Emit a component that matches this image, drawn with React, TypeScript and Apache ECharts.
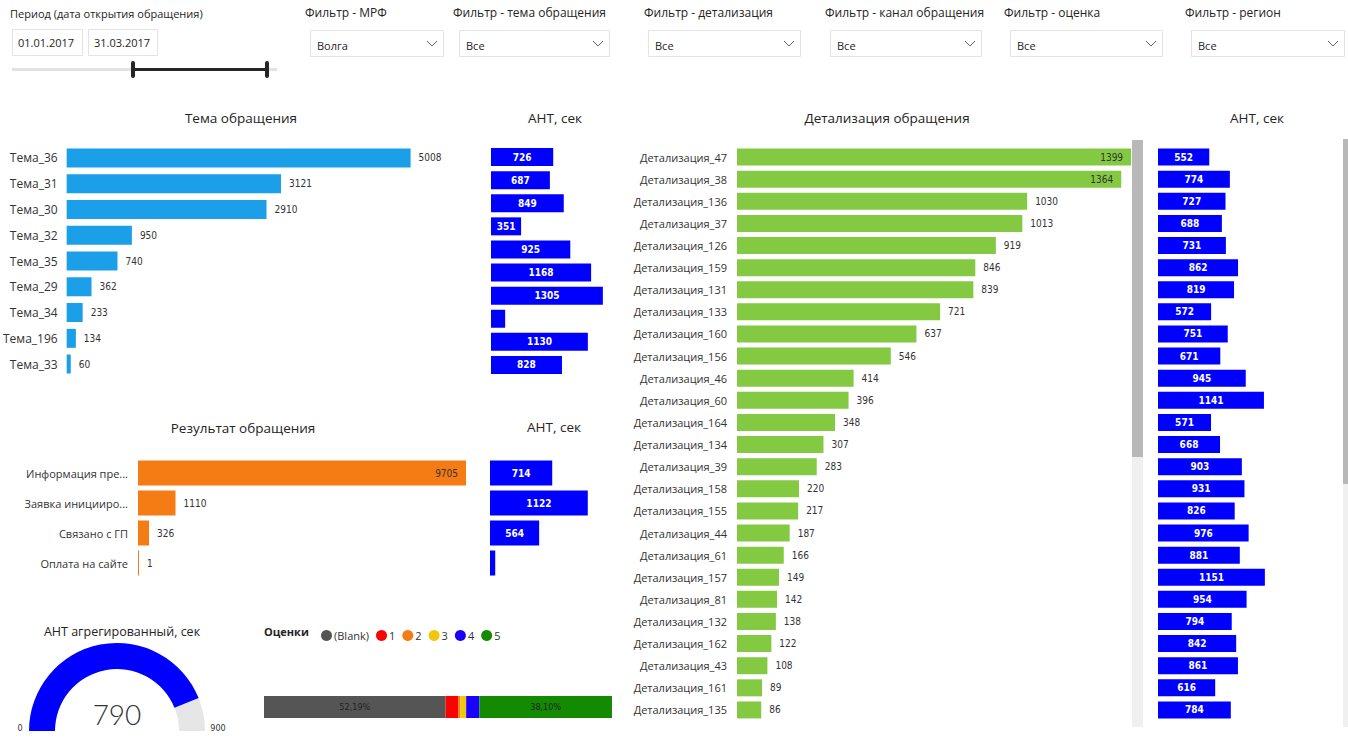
import React, { useEffect, useRef } from "react";
import * as echarts from "echarts";

// ---------- data ----------
const temaCategories = ["Тема_36", "Тема_31", "Тема_30", "Тема_32", "Тема_35", "Тема_29", "Тема_34", "Тема_196", "Тема_33"];
const temaValues = [5008, 3121, 2910, 950, 740, 362, 233, 134, 60];
const temaAhtValues = [726, 687, 849, 351, 925, 1168, 1305, 165, 1130, 828];

const resultCategories = ["Информация пре...", "Заявка иницииро...", "Связано с ГП", "Оплата на сайте"];
const resultValues = [9705, 1110, 326, 1];
const resultAhtValues = [714, 1122, 564, 60];

const detailCategories = [
  "Детализация_47", "Детализация_38", "Детализация_136", "Детализация_37", "Детализация_126",
  "Детализация_159", "Детализация_131", "Детализация_133", "Детализация_160", "Детализация_156",
  "Детализация_46", "Детализация_60", "Детализация_164", "Детализация_134", "Детализация_39",
  "Детализация_158", "Детализация_155", "Детализация_44", "Детализация_61", "Детализация_157",
  "Детализация_81", "Детализация_132", "Детализация_162", "Детализация_43", "Детализация_161",
  "Детализация_135",
];
const detailValues = [1399, 1364, 1030, 1013, 919, 846, 839, 721, 637, 546, 414, 396, 348, 307, 283, 220, 217, 187, 166, 149, 142, 138, 122, 108, 89, 86];
const detailAhtValues = [552, 774, 727, 688, 731, 862, 819, 572, 751, 671, 945, 1141, 571, 668, 903, 931, 826, 976, 881, 1151, 954, 794, 842, 861, 616, 784];

const ratingNames = ["(Blank)", "1", "2", "3", "4", "5"];
const ratingShares = [52.19, 3.6, 0.6, 1.7, 3.8, 38.1];
const ratingColors = ["#555555", "#fd0000", "#f57c14", "#f2c50f", "#1a00ff", "#138a00"];

const gaugeValue = 790;
const gaugeMin = 0;
const gaugeMax = 900;

const periodTitle = "Период (дата открытия обращения)";
const periodDates = ["01.01.2017", "31.03.2017"];
const filterTitles = ["Фильтр - МРФ", "Фильтр - тема обращения", "Фильтр - детализация", "Фильтр - канал обращения", "Фильтр - оценка", "Фильтр - регион"];
const filterValues = ["Волга", "Все", "Все", "Все", "Все", "Все"];

const panelTitles = {
  tema: "Тема обращения",
  result: "Результат обращения",
  detail: "Детализация обращения",
  aht: "АНТ, сек",
  gauge: "АНТ агрегированный, сек",
  ratings: "Оценки",
};

// ---------- layout / style ----------
const UI_FONT = "'Open Sans', 'Noto Sans', sans-serif";
const NUM_FONT = "'DejaVu Sans Condensed', Roboto, sans-serif";
const TITLE_COLOR = "#252423";
const LABEL_COLOR = "#333333";

const filterLayout = [
  { tx: 305, bx: 310, bw: 133 },
  { tx: 453, bx: 459, bw: 150 },
  { tx: 644, bx: 648, bw: 152 },
  { tx: 825, bx: 830, bw: 151 },
  { tx: 1004, bx: 1010, bw: 152 },
  { tx: 1185, bx: 1191, bw: 153 },
];

function txt(x: number, y: number, text: string, size: number, opts: any = {}) {
  return {
    type: "text",
    x,
    y,
    silent: true,
    style: {
      text,
      fill: opts.fill || TITLE_COLOR,
      fontSize: size,
      fontFamily: opts.fontFamily || UI_FONT,
      fontWeight: opts.fontWeight || "normal",
      textAlign: opts.align || "left",
      align: opts.align || "left",
      textVerticalAlign: "middle",
      verticalAlign: "middle",
    },
  };
}

function buildGraphics() {
  const els: any[] = [];
  // period slicer
  els.push(txt(10, 13, periodTitle, 11));
  const dateBoxes = [{ x: 12, w: 70 }, { x: 88, w: 69 }];
  periodDates.forEach((d, i) => {
    els.push({ type: "rect", shape: { x: dateBoxes[i].x + 0.5, y: 29.5, width: dateBoxes[i].w, height: 26 }, style: { fill: "#fff", stroke: "#e3e3e3", lineWidth: 1 } });
    els.push(txt(dateBoxes[i].x + 6, 42, d, 11));
  });
  els.push({ type: "line", shape: { x1: 12, y1: 69.5, x2: 277, y2: 69.5 }, style: { stroke: "#e2e2e2", lineWidth: 3 } });
  els.push({ type: "line", shape: { x1: 133, y1: 69.5, x2: 267, y2: 69.5 }, style: { stroke: "#262626", lineWidth: 3 } });
  els.push({ type: "rect", shape: { x: 131, y: 61, width: 4, height: 17, r: 2 }, style: { fill: "#262626" } });
  els.push({ type: "rect", shape: { x: 265, y: 61, width: 4, height: 17, r: 2 }, style: { fill: "#262626" } });

  // dropdown slicers
  filterTitles.forEach((t, i) => {
    const L = filterLayout[i];
    els.push(txt(L.tx, 12, t, 12));
    els.push({ type: "rect", shape: { x: L.bx + 0.5, y: 30.5, width: L.bw, height: 26 }, style: { fill: "#fff", stroke: "#e3e3e3", lineWidth: 1 } });
    els.push(txt(L.bx + 7, 45, filterValues[i], 11));
    const cx = L.bx + L.bw - 11;
    els.push({ type: "polyline", shape: { points: [[cx - 5, 41], [cx, 46], [cx + 5, 41]] }, style: { stroke: "#666", fill: null, lineWidth: 1 } });
  });

  // panel titles
  els.push(txt(241, 118, panelTitles.tema, 13.5, { align: "center" }));
  els.push(txt(555, 118, panelTitles.aht, 13.5, { align: "center" }));
  els.push(txt(243, 428, panelTitles.result, 13.5, { align: "center" }));
  els.push(txt(554, 427, panelTitles.aht, 13.5, { align: "center" }));
  els.push(txt(887, 118, panelTitles.detail, 13.5, { align: "center" }));
  els.push(txt(1257, 118, panelTitles.aht, 13.5, { align: "center" }));
  els.push(txt(122, 631, panelTitles.gauge, 12.5, { align: "center" }));
  els.push(txt(264, 631, panelTitles.ratings, 11, { fontWeight: "bold" }));

  // gauge end labels
  els.push(txt(20, 728, String(gaugeMin), 9, { fontFamily: NUM_FONT, fill: LABEL_COLOR, align: "center" }));
  els.push(txt(218, 728, String(gaugeMax), 9, { fontFamily: NUM_FONT, fill: LABEL_COLOR, align: "center" }));

  // scrollbars
  els.push({ type: "rect", shape: { x: 1132, y: 457, width: 11, height: 270 }, style: { fill: "#f0f0f0" } });
  els.push({ type: "rect", shape: { x: 1132, y: 140, width: 11, height: 317 }, style: { fill: "#b8b8b8" } });
  els.push({ type: "rect", shape: { x: 1343, y: 484, width: 5, height: 243 }, style: { fill: "#f0f0f0" } });
  els.push({ type: "rect", shape: { x: 1343, y: 139, width: 5, height: 345 }, style: { fill: "#b8b8b8" } });
  return els;
}

function catAxis(gridIndex: number, data: string[], showLabels: boolean, margin = 10, fontSize = 12) {
  return {
    type: "category",
    gridIndex,
    data,
    inverse: true,
    axisLine: { show: false },
    axisTick: { show: false },
    axisLabel: { show: showLabels, color: LABEL_COLOR, fontSize, fontFamily: UI_FONT, margin },
  };
}

function valAxis(gridIndex: number, max: number) {
  return { type: "value", gridIndex, min: 0, max, show: false, splitLine: { show: false } };
}

const outsideLabel = { show: true, position: "right", distance: 8, color: LABEL_COLOR, fontSize: 10, fontFamily: NUM_FONT };
const ahtLabel = {
  show: true,
  position: "inside",
  color: "#ffffff",
  fontSize: 10,
  fontWeight: "bold",
  fontFamily: NUM_FONT,
  formatter: (p: any) => (p.value < 250 ? "" : String(p.value)),
};

function buildOption() {
  const grids = [
    { left: 65, top: 145, width: 400, height: 232 }, // tema
    { left: 491, top: 145.5, width: 120, height: 231 }, // tema aht
    { left: 138, top: 458, width: 338, height: 120 }, // result
    { left: 490, top: 458, width: 122, height: 120 }, // result aht
    { left: 737, top: 146, width: 400, height: 575 }, // detail
    { left: 1158, top: 146, width: 130, height: 575 }, // detail aht
    { left: 264, top: 696, width: 348, height: 22 }, // ratings
  ];
  const ahtIdx = temaAhtValues.map((_, i) => String(i + 1));
  const resAhtIdx = resultAhtValues.map((_, i) => String(i + 1));
  const detAhtIdx = detailAhtValues.map((_, i) => String(i + 1));

  const yAxis = [
    catAxis(0, temaCategories, true, 9, 12),
    catAxis(1, ahtIdx, false),
    catAxis(2, resultCategories, true, 10, 11),
    catAxis(3, resAhtIdx, false),
    catAxis(4, detailCategories, true, 10, 11),
    catAxis(5, detAhtIdx, false),
    catAxis(6, ["Оценки"], false),
  ];
  const xAxis = [
    valAxis(0, 5800),
    valAxis(1, 1400),
    valAxis(2, 10000),
    valAxis(3, 1400),
    valAxis(4, 1420),
    valAxis(5, 1400),
    valAxis(6, 100),
  ];

  const series: any[] = [
    {
      type: "bar", xAxisIndex: 0, yAxisIndex: 0, data: temaValues, barWidth: 19,
      itemStyle: { color: "#1a9fe8" }, label: outsideLabel,
    },
    {
      type: "bar", xAxisIndex: 1, yAxisIndex: 1, data: temaAhtValues, barWidth: 18,
      itemStyle: { color: "#0000ff" }, label: ahtLabel,
    },
    {
      type: "bar", xAxisIndex: 2, yAxisIndex: 2, barWidth: 25, barMinHeight: 1,
      data: resultValues.map((v) => (v > 5000 ? { value: v, label: { position: "insideRight", distance: 8 } } : v)),
      itemStyle: { color: "#f57c14" }, label: outsideLabel,
    },
    {
      type: "bar", xAxisIndex: 3, yAxisIndex: 3, data: resultAhtValues, barWidth: 25,
      itemStyle: { color: "#0000ff" }, label: ahtLabel,
    },
    {
      type: "bar", xAxisIndex: 4, yAxisIndex: 4, barWidth: 17,
      data: detailValues.map((v) => (v > 1300 ? { value: v, label: { position: "insideRight", distance: 8 } } : v)),
      itemStyle: { color: "#84c942" }, label: outsideLabel,
    },
    {
      type: "bar", xAxisIndex: 5, yAxisIndex: 5, data: detailAhtValues, barWidth: 17,
      itemStyle: { color: "#0000ff" }, label: ahtLabel,
    },
  ];

  ratingNames.forEach((name, i) => {
    series.push({
      type: "bar", name, stack: "ratings", xAxisIndex: 6, yAxisIndex: 6, barWidth: 22,
      data: [ratingShares[i]],
      itemStyle: { color: ratingColors[i] },
      label: {
        show: ratingShares[i] > 20,
        position: "inside",
        color: "#222",
        fontSize: 9,
        fontFamily: NUM_FONT,
        formatter: (p: any) => p.value.toFixed(2).replace(".", ",") + "%",
      },
    });
  });

  series.push({
    type: "gauge",
    center: [117, 731],
    radius: 88,
    startAngle: 180,
    endAngle: 0,
    min: gaugeMin,
    max: gaugeMax,
    data: [{ value: gaugeValue }],
    axisLine: { lineStyle: { width: 26, color: [[1, "#e6e6e6"]] } },
    progress: { show: true, width: 26, itemStyle: { color: "#0000ff" } },
    pointer: { show: false },
    anchor: { show: false },
    axisTick: { show: false },
    splitLine: { show: false },
    axisLabel: { show: false },
    title: { show: false },
    detail: {
      offsetCenter: [0, -17],
      fontSize: 28,
      fontWeight: 300,
      color: "#333",
      fontFamily: "Lato, 'Open Sans', sans-serif",
      formatter: "{value}",
    },
  });

  return {
    animation: false,
    backgroundColor: "#ffffff",
    textStyle: { fontFamily: UI_FONT },
    legend: {
      left: 316,
      top: 625,
      icon: "circle",
      itemWidth: 11,
      itemHeight: 11,
      itemGap: 7,
      data: ratingNames,
      selectedMode: false,
      textStyle: { fontSize: 11, color: LABEL_COLOR, fontFamily: UI_FONT, padding: [0, 0, 0, -3] },
    },
    grid: grids,
    xAxis,
    yAxis,
    series,
    graphic: { elements: buildGraphics() },
  };
}

export default function App() {
  const ref = useRef<HTMLDivElement>(null);
  useEffect(() => {
    if (!ref.current) return;
    const chart = echarts.init(ref.current, null, { renderer: "svg" });
    chart.setOption(buildOption() as any);
    return () => chart.dispose();
  }, []);
  return (
    <div
      ref={ref}
      style={{ position: "fixed", left: 0, top: 0, width: 1348, height: 752, background: "#fff" }}
    />
  );
}
